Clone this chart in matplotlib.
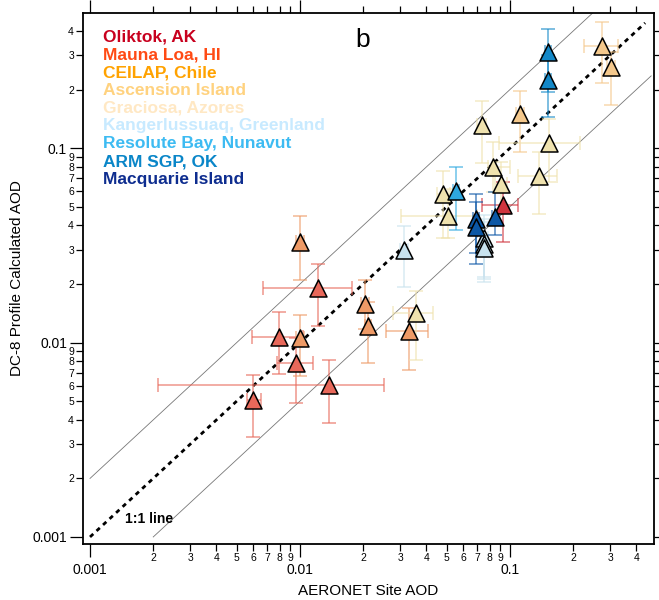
import numpy as np
import matplotlib
matplotlib.use("Agg")
import matplotlib.pyplot as plt
from matplotlib.ticker import LogLocator, FuncFormatter

plt.rcParams['font.family'] = ['Liberation Sans', 'DejaVu Sans']

# ---------------- data ----------------
sites = ["Oliktok, AK", "Mauna Loa, HI", "CEILAP, Chile", "Ascension Island",
         "Graciosa, Azores", "Kangerlussuaq, Greenland", "Resolute Bay, Nunavut",
         "ARM SGP, OK", "Macquarie Island"]
legend_colors = ["#C8001E", "#FF4A14", "#FFA200", "#FFD27F", "#FFE8C4",
                 "#C8EAFF", "#3DBBF2", "#0A86C8", "#0E2D8F"]
marker_colors = ["#D0343E", "#E8685A", "#EE9A66", "#F4C88C", "#EFE2AE",
                 "#C8E2EE", "#2EA8E0", "#1388C8", "#0B57A6"]

# per site: x, y, x-low, x-high, y-low, y-high
oli_x = [0.0926]; oli_y = [0.0508]
oli_xlo = [0.0735]; oli_xhi = [0.109]; oli_ylo = [0.0327]; oli_yhi = [0.067]

mlo_x = [0.0122, 0.00794, 0.00957, 0.0137, 0.00597]
mlo_y = [0.0190, 0.0107, 0.0078, 0.00608, 0.00508]
mlo_xlo = [0.00667, 0.0059, 0.0078, 0.00211, 0.0056]
mlo_xhi = [0.0177, 0.0103, 0.0115, 0.0251, 0.0065]
mlo_ylo = [0.0121, 0.0069, 0.0049, 0.00387, 0.00327]
mlo_yhi = [0.0252, 0.0143, 0.0105, 0.0081, 0.0068]

cei_x = [0.0100, 0.0204, 0.0211, 0.0100, 0.0330]
cei_y = [0.0327, 0.0157, 0.0122, 0.0106, 0.0114]
cei_xlo = [0.0096, 0.0196, 0.0203, 0.0096, 0.0256]
cei_xhi = [0.0104, 0.0212, 0.0219, 0.0104, 0.0407]
cei_ylo = [0.0210, 0.0117, 0.0078, 0.0067, 0.00726]
cei_yhi = [0.0445, 0.0209, 0.0162, 0.0139, 0.0150]

asc_x = [0.274, 0.303, 0.1117]
asc_y = [0.336, 0.262, 0.150]
asc_xlo = [0.226, 0.290, 0.107]
asc_xhi = [0.326, 0.316, 0.116]
asc_ylo = [0.2155, 0.167, 0.095]
asc_yhi = [0.446, 0.312, 0.197]

gra_x = [0.0736, 0.153, 0.083, 0.137, 0.0906, 0.048, 0.0507, 0.0357]
gra_y = [0.131, 0.106, 0.0798, 0.0718, 0.065, 0.058, 0.0446, 0.0141]
gra_xlo = [0.070, 0.089, 0.0786, 0.109, 0.085, 0.045, 0.0303, 0.0277]
gra_xhi = [0.077, 0.216, 0.100, 0.167, 0.097, 0.052, 0.0697, 0.0429]
gra_ylo = [0.084, 0.067, 0.0592, 0.0456, 0.048, 0.0343, 0.0343, 0.0081]
gra_yhi = [0.174, 0.141, 0.107, 0.0953, 0.085, 0.076, 0.0614, 0.0185]

kan_x = [0.0313, 0.0752, 0.0752, 0.0752]
kan_y = [0.0298, 0.0344, 0.0322, 0.0305]
kan_xlo = [0.0300, 0.0720, 0.0720, 0.0720]
kan_xhi = [0.0326, 0.0785, 0.0785, 0.0785]
kan_ylo = [0.0193, 0.0218, 0.0211, 0.0205]
kan_yhi = [0.0399, 0.0455, 0.0430, 0.0415]

res_x = [0.0553]; res_y = [0.060]
res_xlo = [0.0535]; res_xhi = [0.0572]; res_ylo = [0.038]; res_yhi = [0.0795]

arm_x = [0.152, 0.152]; arm_y = [0.313, 0.224]
arm_xlo = [0.147, 0.147]; arm_xhi = [0.157, 0.157]
arm_ylo = [0.195, 0.144]; arm_yhi = [0.41, 0.30]

mac_x = [0.0689, 0.0689, 0.085]
mac_y = [0.0431, 0.0391, 0.0441]
mac_xlo = [0.0670, 0.0670, 0.0825]
mac_xhi = [0.0708, 0.0708, 0.0875]
mac_ylo = [0.0290, 0.0253, 0.0357]
mac_yhi = [0.0581, 0.0530, 0.0594]

site_data = [
    (oli_x, oli_y, oli_xlo, oli_xhi, oli_ylo, oli_yhi),
    (mlo_x, mlo_y, mlo_xlo, mlo_xhi, mlo_ylo, mlo_yhi),
    (cei_x, cei_y, cei_xlo, cei_xhi, cei_ylo, cei_yhi),
    (asc_x, asc_y, asc_xlo, asc_xhi, asc_ylo, asc_yhi),
    (gra_x, gra_y, gra_xlo, gra_xhi, gra_ylo, gra_yhi),
    (kan_x, kan_y, kan_xlo, kan_xhi, kan_ylo, kan_yhi),
    (res_x, res_y, res_xlo, res_xhi, res_ylo, res_yhi),
    (arm_x, arm_y, arm_xlo, arm_xhi, arm_ylo, arm_yhi),
    (mac_x, mac_y, mac_xlo, mac_xhi, mac_ylo, mac_yhi),
]

one_to_one = [0.001, 0.44]
upper_line_x = [0.001, 0.25]      # y = 2x
lower_line_x = [0.002, 0.47]      # y = x/2

# ---------------- figure ----------------
fig = plt.figure(figsize=(6.59, 6.00), dpi=100)
ax = fig.add_axes([83/659, 56/600, 571/659, 531/600])
ax.set_xscale('log')
ax.set_yscale('log')
ax.set_xlim(0.000926, 0.485)
ax.set_ylim(0.00092, 0.495)

# reference lines
ux = np.array(upper_line_x)
lx = np.array(lower_line_x)
ax.plot(ux, 2 * ux, color='#777777', lw=0.6, zorder=1)
ax.plot(lx, lx / 2, color='#777777', lw=0.6, zorder=1)
ax.plot(one_to_one, one_to_one, color='black', lw=2.0,
        linestyle=(0, (1.6, 1.6)), zorder=1.5)

# error bars
for (x, y, xlo, xhi, ylo, yhi), mc in zip(site_data, marker_colors):
    x = np.array(x); y = np.array(y)
    xerr = np.vstack([x - np.array(xlo), np.array(xhi) - x])
    yerr = np.vstack([y - np.array(ylo), np.array(yhi) - y])
    ax.errorbar(x, y, xerr=xerr, yerr=yerr, fmt='none', ecolor=mc,
                alpha=0.55, elinewidth=1.4, capsize=5, capthick=1.4, zorder=2)

# markers
for (x, y, *_), mc in zip(site_data, marker_colors):
    ax.scatter(x, y, marker='^', s=150, facecolor=mc, edgecolor='black',
               linewidth=1.1, zorder=3)

# legend as coloured text
for i, (name, c) in enumerate(zip(sites, legend_colors)):
    ax.text(0.035, 0.9548 - i * 0.0335, name, transform=ax.transAxes,
            color=c, fontsize=12.5, fontweight='bold', va='center', ha='left')

ax.text(0.489, 0.949, 'b', transform=ax.transAxes, fontsize=19,
        ha='center', va='center')
ax.text(0.0736, 0.047, '1:1 line', transform=ax.transAxes, fontsize=10,
        fontweight='bold', ha='left', va='center')

# ---------------- axes styling ----------------
def major_fmt(v, pos):
    return {0.001: '0.001', 0.01: '0.01', 0.1: '0.1'}.get(round(v, 6), '')

def minor_fmt(v, pos):
    e = np.floor(np.log10(v) + 1e-9)
    d = int(round(v / 10 ** e))
    return str(d)

for axis in (ax.xaxis, ax.yaxis):
    axis.set_major_locator(LogLocator(base=10, numticks=10))
    axis.set_minor_locator(LogLocator(base=10, subs=np.arange(2, 10), numticks=20))
    axis.set_major_formatter(FuncFormatter(major_fmt))
    axis.set_minor_formatter(FuncFormatter(minor_fmt))

ax.tick_params(which='both', direction='out', top=True, right=True,
               labeltop=False, labelright=False, width=0.9)
ax.tick_params(which='major', length=9.5, labelsize=10)
ax.tick_params(which='minor', length=5, labelsize=7.5)
ax.tick_params(axis='x', which='major', pad=4.5)
ax.tick_params(axis='x', which='minor', pad=1.5)
ax.tick_params(axis='y', which='major', pad=2)
ax.tick_params(axis='y', which='minor', pad=1.5)
for sp in ax.spines.values():
    sp.set_linewidth(1.3)

ax.set_xlabel('AERONET Site AOD', fontsize=11, labelpad=5)
ax.set_ylabel('DC-8 Profile Calculated AOD', fontsize=11, labelpad=6)

fig.savefig('out.png', dpi=100)
